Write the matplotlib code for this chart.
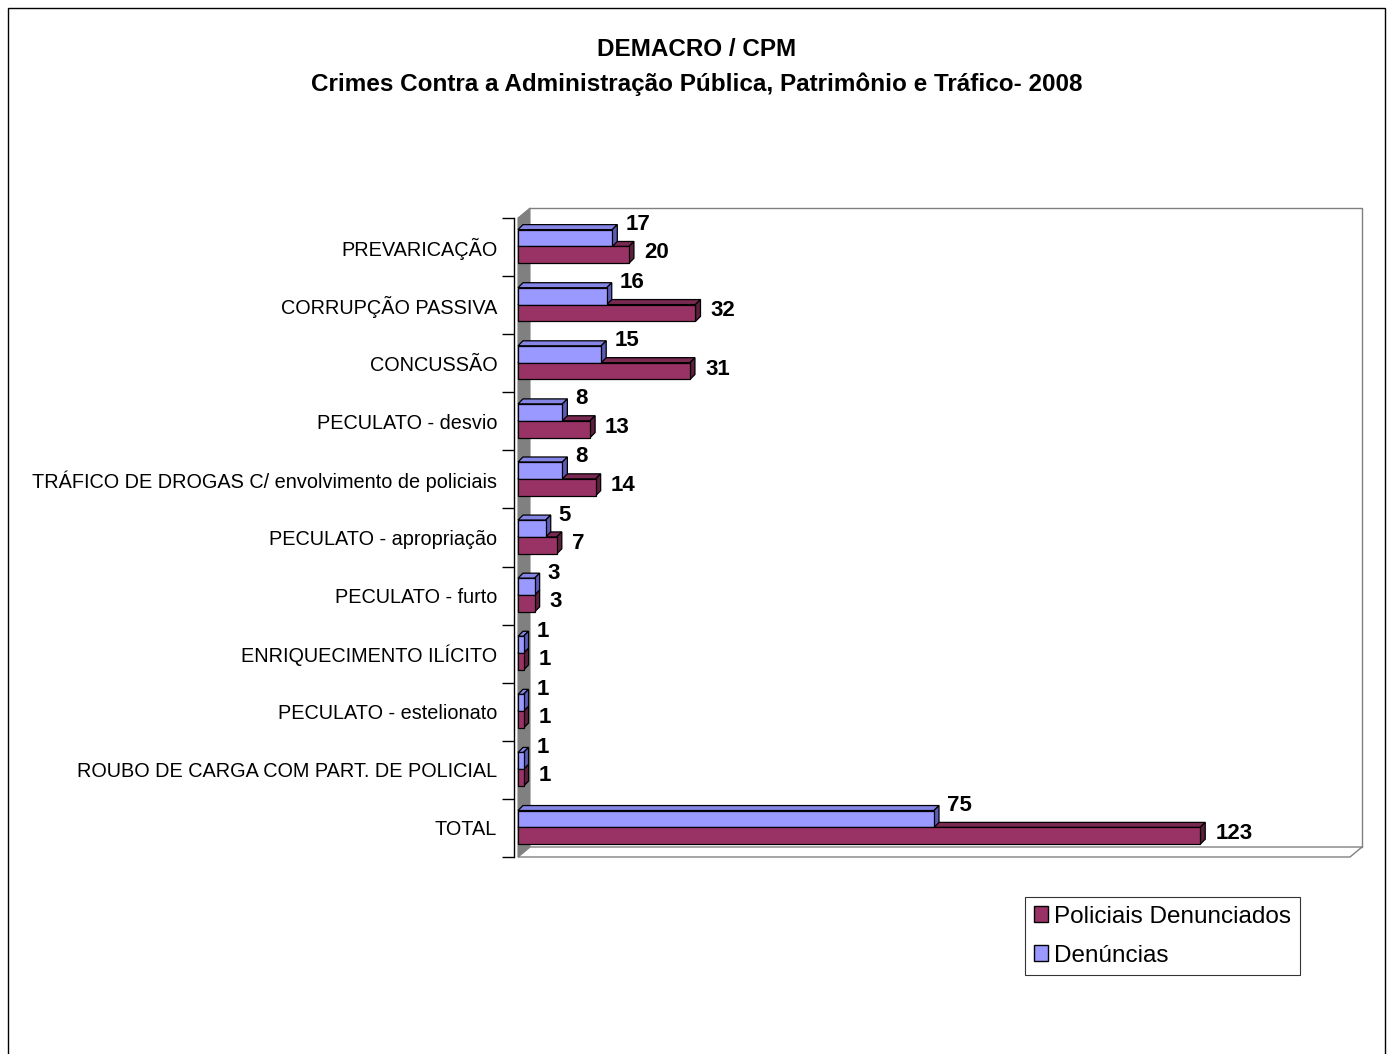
import matplotlib
matplotlib.use("Agg")
import matplotlib.pyplot as plt
from matplotlib.patches import Polygon, Rectangle, Patch

plt.rcParams['font.family'] = ['Liberation Sans', 'DejaVu Sans']

categories = ["PREVARICAÇÃO", "CORRUPÇÃO PASSIVA", "CONCUSSÃO", "PECULATO - desvio",
              "TRÁFICO DE DROGAS C/ envolvimento de policiais", "PECULATO - apropriação",
              "PECULATO - furto", "ENRIQUECIMENTO ILÍCITO", "PECULATO - estelionato",
              "ROUBO DE CARGA COM PART. DE POLICIAL", "TOTAL"]
denuncias = [17, 16, 15, 8, 8, 5, 3, 1, 1, 1, 75]
policiais = [20, 32, 31, 13, 14, 7, 3, 1, 1, 1, 123]
series_names = ["Policiais Denunciados", "Denúncias"]
title_lines = ["DEMACRO / CPM",
               "Crimes Contra a Administração Pública, Patrimônio e Tráfico- 2008"]

W, H = 1390, 1054
fig = plt.figure(figsize=(W / 100, H / 100), dpi=100)
fig.patch.set_facecolor("white")

ax_l, ax_r, ax_t, ax_b = 518, 1350, 218, 857
ax = fig.add_axes([ax_l / W, 1 - ax_b / H, (ax_r - ax_l) / W, (ax_b - ax_t) / H])
XMAX = 150
n = len(categories)
ax.set_xlim(0, XMAX)
ax.set_ylim(n - 0.5, -0.5)
ax.set_facecolor("none")

pxx = (ax_r - ax_l) / XMAX
pxy = (ax_b - ax_t) / n
# wall depth
wdx, wdy = 12 / pxx, 10 / pxy
# bar depth
bdx, bdy = 5 / pxx, 5 / pxy

grey = "#808080"
# left wall
ax.add_patch(Polygon([(0, -0.5), (wdx, -0.5 - wdy), (wdx, n - 0.5 - wdy), (0, n - 0.5)],
                     closed=True, facecolor=grey, edgecolor=grey, lw=0.8, zorder=0, clip_on=False))
# floor
ax.add_patch(Polygon([(0, n - 0.5), (XMAX, n - 0.5), (XMAX + wdx, n - 0.5 - wdy), (wdx, n - 0.5 - wdy)],
                     closed=True, facecolor="white", edgecolor=grey, lw=1.0, zorder=0, clip_on=False))
# back wall
ax.plot([wdx, XMAX + wdx, XMAX + wdx], [-0.5 - wdy, -0.5 - wdy, n - 0.5 - wdy],
        color=grey, lw=1.0, zorder=0, clip_on=False)

h = 0.29
blue_off, red_off = -0.155, 0.135
blue_c = dict(front="#9999FF", top="#8585E6", side="#5C5CB8")
red_c = dict(front="#993366", top="#7A2952", side="#5E1F3F")
ec = "black"
lw = 0.9


def bar3d(y, v, col, z_back, z_front):
    top = y - h / 2
    bot = y + h / 2
    ax.add_patch(Polygon([(0, top), (v, top), (v + bdx, top - bdy), (bdx, top - bdy)], closed=True,
                         facecolor=col["top"], edgecolor=ec, lw=lw, zorder=z_back, clip_on=False))
    ax.add_patch(Polygon([(v, top), (v + bdx, top - bdy), (v + bdx, bot - bdy), (v, bot)], closed=True,
                         facecolor=col["side"], edgecolor=ec, lw=lw, zorder=z_back, clip_on=False))
    ax.add_patch(Rectangle((0, top), v, h, facecolor=col["front"], edgecolor=ec, lw=lw,
                           zorder=z_front, clip_on=False))


for i in range(n):
    yb = i + blue_off
    yr = i + red_off
    bar3d(yr, policiais[i], red_c, 2, 4)
    bar3d(yb, denuncias[i], blue_c, 3, 3)
    ax.annotate(str(denuncias[i]), xy=(denuncias[i], yb - h / 2), xytext=(13, 5),
                textcoords="offset pixels", ha="left", va="center",
                fontsize=16, fontweight="bold", zorder=6)
    ax.annotate(str(policiais[i]), xy=(policiais[i], yr), xytext=(15, 2),
                textcoords="offset pixels", ha="left", va="center",
                fontsize=16, fontweight="bold", zorder=6)

# axes / ticks
for s in ["top", "right", "bottom"]:
    ax.spines[s].set_visible(False)
ax.spines["left"].set_position(("outward", 3))
ax.spines["left"].set_linewidth(1.0)
ax.set_xticks([])
ax.set_yticks([i - 0.5 for i in range(n + 1)])
ax.set_yticklabels([])
ax.tick_params(axis="y", which="major", length=9, width=1.0, color="black")
ax.set_yticks(list(range(n)), minor=True)
ax.set_yticklabels(categories, minor=True, fontsize=14.3)
ax.tick_params(axis="y", which="minor", length=0, pad=12)

# title
fig.text(0.5014, 1 - 50 / H, title_lines[0], ha="center", va="center", fontsize=17.5, fontweight="bold")
fig.text(0.5014, 1 - 84 / H, title_lines[1], ha="center", va="center", fontsize=17.5, fontweight="bold")

# legend
handles = [Patch(facecolor=red_c["front"], edgecolor="black", lw=1.0, label=series_names[0]),
           Patch(facecolor=blue_c["front"], edgecolor="black", lw=1.0, label=series_names[1])]
leg = fig.legend(handles=handles, loc="upper left", bbox_to_anchor=(1025 / W, 1 - 897 / H),
                 fontsize=17.5, frameon=True, fancybox=False, handlelength=0.6, handleheight=0.6,
                 handletextpad=0.25, borderpad=0.35, labelspacing=0.7, borderaxespad=0)
leg.get_frame().set_edgecolor("black")
leg.get_frame().set_linewidth(0.8)

# outer border
fig.add_artist(Rectangle((8 / W, -0.02), (1385 - 8) / W, 1.02 - 8 / H, transform=fig.transFigure,
                         fill=False, edgecolor="black", lw=1.0))

fig.savefig("out.png", dpi=100)
